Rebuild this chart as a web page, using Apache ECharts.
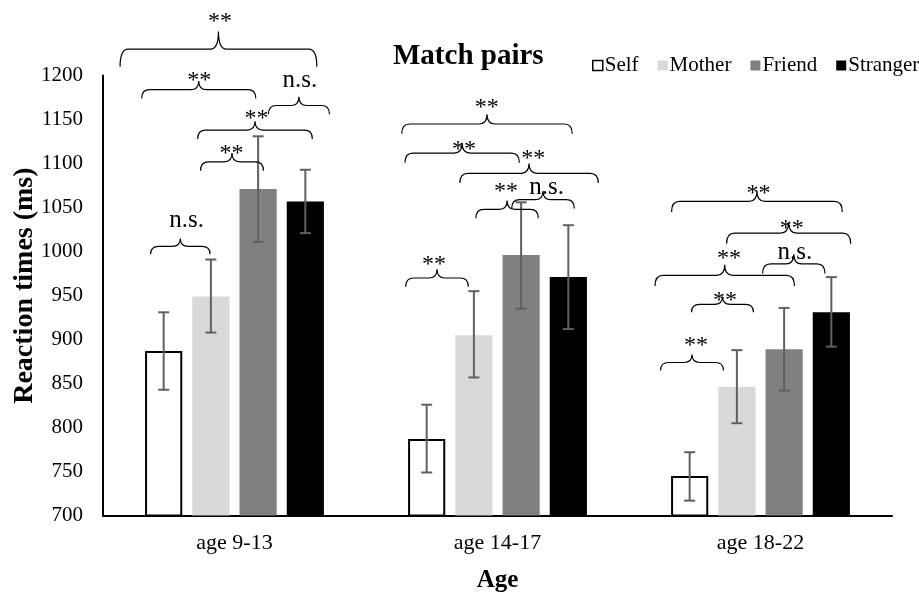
<!DOCTYPE html>
<html>
<head>
<meta charset="utf-8">
<script src="https://cdn.jsdelivr.net/npm/echarts@6/dist/echarts.min.js"></script>
<style>
html,body{margin:0;padding:0;background:#fff;}
#chart{width:919px;height:593px;}
</style>
</head>
<body>
<div id="chart"></div>
<script>
var categories = ['age 9-13', 'age 14-17', 'age 18-22'];
var seriesNames = ['Self', 'Mother', 'Friend', 'Stranger'];
var selfRT = [887, 787, 745];
var motherRT = [949, 905, 846];
var friendRT = [1071, 996, 889];
var strangerRT = [1057, 971, 931];
var selfErr = [[843, 931], [749, 826], [717, 772]];
var motherErr = [[908, 991], [857, 955], [805, 888]];
var friendErr = [[1011, 1131], [935, 1056], [842, 936]];
var strangerErr = [[1021, 1093], [912, 1030], [892, 971]];
var yTicks = [700, 750, 800, 850, 900, 950, 1000, 1050, 1100, 1150, 1200];
// significance brackets: [xFrom, xTo, yTip, yLine, labelX, labelY] (x in category units, 0 = first group centre)
var brackets = [
  [-0.435, 0.313, 1210, 1230, -0.055, 1267],
  [-0.353, 0.081, 1174, 1184, -0.134, 1200],
  [0.129, 0.361, 1156, 1166, 0.249, 1191],
  [-0.140, 0.296, 1128, 1138, 0.084, 1157],
  [-0.129, 0.110, 1092, 1102, -0.011, 1117],
  [-0.319, -0.093, 997, 1006, -0.182, 1032],
  [0.636, 1.284, 1134, 1145, 0.959, 1169],
  [0.648, 1.083, 1101, 1112, 0.873, 1122],
  [0.857, 1.383, 1078, 1089, 1.136, 1111],
  [0.918, 1.155, 1038, 1048, 1.032, 1074],
  [1.054, 1.292, 1049, 1059, 1.187, 1070],
  [0.651, 0.889, 960, 970, 0.759, 991],
  [1.662, 2.311, 1045, 1057, 1.992, 1072],
  [1.871, 2.343, 1009, 1021, 2.119, 1032],
  [1.599, 2.129, 961, 973, 1.880, 998],
  [2.008, 2.245, 975, 986, 2.131, 996],
  [1.738, 1.973, 931, 940, 1.865, 950],
  [1.620, 1.859, 865, 874, 1.755, 899]
];
var bracketLabels = ['**', '**', 'n.s.', '**', '**', 'n.s.', '**', '**', '**', '**', 'n.s.', '**', '**', '**', '**', 'n.s.', '**', '**'];

var FONT = '"Liberation Serif", "Times New Roman", serif';
var CAT_GAP = 0.32, BAR_GAP = 0.27, NBARS = 4;

var errData = [];
[selfErr, motherErr, friendErr, strangerErr].forEach(function (arr, s) {
  arr.forEach(function (e, c) { errData.push([c, s, e[0], e[1]]); });
});

function barOffset(band, s) {
  var used = band * (1 - CAT_GAP);
  var w = used / (NBARS + (NBARS - 1) * BAR_GAP);
  return -used / 2 + w / 2 + s * w * (1 + BAR_GAP);
}

var chart = echarts.init(document.getElementById('chart'), null, {renderer: 'canvas'});
var colors = ['#ffffff', '#d9d9d9', '#808080', '#000000'];
var values = [selfRT, motherRT, friendRT, strangerRT];

var barSeries = seriesNames.map(function (n, i) {
  return {
    name: n, type: 'bar', data: values[i],
    barGap: (BAR_GAP * 100) + '%', barCategoryGap: (CAT_GAP * 100) + '%',
    itemStyle: {color: colors[i], borderColor: i === 0 ? '#000' : colors[i], borderWidth: i === 0 ? 2 : 0},
    z: 2
  };
});

var option = {
  animation: false,
  backgroundColor: '#fff',
  title: {
    text: 'Match pairs', left: 388, top: 37,
    textStyle: {fontFamily: FONT, fontWeight: 'bold', fontSize: 29, color: '#000'}
  },
  legend: {
    data: seriesNames.map(function (n, i) {
      return {name: n, itemStyle: {color: colors[i], borderColor: i === 0 ? '#000' : colors[i], borderWidth: i === 0 ? 1.5 : 0}};
    }),
    left: 592, top: 55, padding: 0, width: 330, orient: 'horizontal',
    itemWidth: 10, itemHeight: 10, itemGap: 19, icon: 'rect',
    textStyle: {fontFamily: FONT, fontSize: 21, color: '#000', padding: [0, 0, 0, -3]}
  },
  grid: {left: 103, right: 27, top: 75.6, bottom: 77.4, containLabel: false, outerBoundsMode: 'none'},
  xAxis: {
    type: 'category', data: categories,
    axisLine: {lineStyle: {color: '#000', width: 2}},
    axisTick: {show: false},
    axisLabel: {fontFamily: FONT, fontSize: 22, color: '#000', margin: 17},
    name: 'Age', nameLocation: 'middle', nameGap: 52,
    nameTextStyle: {fontFamily: FONT, fontWeight: 'bold', fontSize: 25, color: '#000'}
  },
  yAxis: {
    type: 'value', min: yTicks[0], max: yTicks[yTicks.length - 1], interval: yTicks[1] - yTicks[0],
    axisLine: {show: true, lineStyle: {color: '#000', width: 2}},
    axisTick: {show: false},
    splitLine: {show: false},
    axisLabel: {fontFamily: FONT, fontSize: 21, color: '#000', margin: 20, formatter: function (v) { return String(v); }},
    name: 'Reaction times (ms)', nameLocation: 'middle', nameGap: 64, nameRotate: 90, nameMoveOverlap: false,
    nameTextStyle: {fontFamily: FONT, fontWeight: 'bold', fontSize: 28, color: '#000', padding: [0, 0, 0, 20]}
  },
  series: barSeries.concat([
    {
      type: 'custom', name: 'err', data: errData, z: 5, silent: true,
      encode: {x: 0, y: [2, 3]},
      renderItem: function (params, api) {
        var c = api.value(0), s = api.value(1);
        var lo = api.coord([c, api.value(2)]);
        var hi = api.coord([c, api.value(3)]);
        var band = api.size([1, 0])[0];
        var x = lo[0] + barOffset(band, s);
        var cap = 5.5;
        var st = {stroke: '#606060', lineWidth: 2};
        return {type: 'group', children: [
          {type: 'line', shape: {x1: x, y1: lo[1], x2: x, y2: hi[1]}, style: st},
          {type: 'line', shape: {x1: x - cap, y1: lo[1], x2: x + cap, y2: lo[1]}, style: st},
          {type: 'line', shape: {x1: x - cap, y1: hi[1], x2: x + cap, y2: hi[1]}, style: st}
        ]};
      }
    },
    {
      type: 'custom', name: 'sig', data: brackets, z: 6, silent: true, clip: false,
      encode: {x: [0, 1], y: [2, 3]},
      renderItem: function (params, api) {
        var band = api.size([1, 0])[0];
        var base = api.coord([0, api.value(3)]);
        var tipP = api.coord([0, api.value(2)]);
        var labP = api.coord([0, api.value(5)]);
        var x1 = base[0] + api.value(0) * band;
        var x2 = base[0] + api.value(1) * band;
        var xl = base[0] + api.value(4) * band;
        var yl = base[1], yt = tipP[1];
        var d = yt - yl;
        var yc = yl - d;
        var xm = (x1 + x2) / 2;
        var r = Math.min(d, 8);
        var p = 'M' + x1 + ' ' + yt +
          ' Q' + x1 + ' ' + yl + ' ' + (x1 + r) + ' ' + yl +
          ' L' + (xm - r) + ' ' + yl +
          ' Q' + xm + ' ' + yl + ' ' + xm + ' ' + yc +
          ' Q' + xm + ' ' + yl + ' ' + (xm + r) + ' ' + yl +
          ' L' + (x2 - r) + ' ' + yl +
          ' Q' + x2 + ' ' + yl + ' ' + x2 + ' ' + yt;
        var lab = bracketLabels[params.dataIndex];
        var star = lab === '**';
        return {type: 'group', children: [
          {type: 'path', shape: {pathData: p}, style: {stroke: '#000', lineWidth: 1.2, fill: null}},
          {type: 'text', x: xl, y: labP[1] + (star ? 5 : -3), style: {
            text: lab, fontFamily: FONT, fontSize: star ? 24 : 25, fill: '#000',
            align: 'center', verticalAlign: 'middle'
          }}
        ]};
      }
    }
  ])
};
chart.setOption(option);
</script>
</body>
</html>
